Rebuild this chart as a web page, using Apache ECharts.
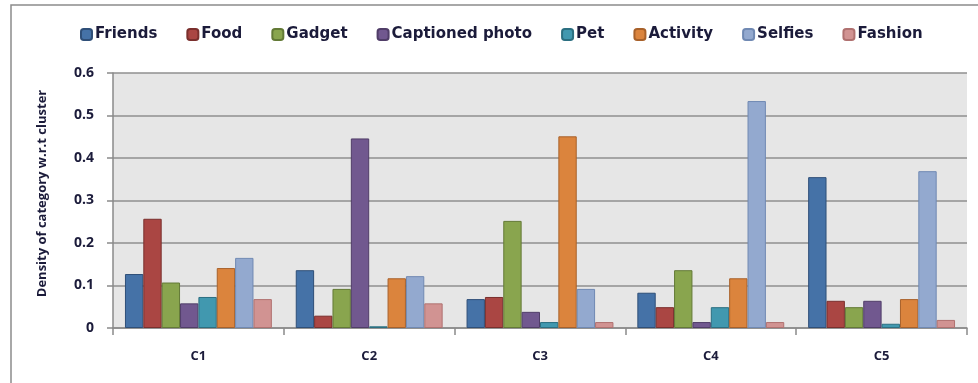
<!DOCTYPE html>
<html>
<head>
<meta charset="utf-8">
<script src="https://cdn.jsdelivr.net/npm/echarts@6/dist/echarts.min.js"></script>
<style>
  html, body { margin: 0; padding: 0; background: #fff; }
  #chart { width: 978px; height: 383px; }
</style>
</head>
<body>
<div id="chart"></div>
<script>
const clusters = ['C1', 'C2', 'C3', 'C4', 'C5'];
const friends   = [0.127, 0.136, 0.068, 0.083, 0.355];
const food      = [0.257, 0.029, 0.073, 0.049, 0.064];
const gadget    = [0.107, 0.092, 0.252, 0.136, 0.049];
const captioned = [0.058, 0.446, 0.038, 0.014, 0.064];
const pet       = [0.073, 0.004, 0.014, 0.049, 0.010];
const activity  = [0.141, 0.117, 0.451, 0.117, 0.068];
const selfies   = [0.165, 0.122, 0.092, 0.534, 0.369];
const fashion   = [0.068, 0.058, 0.014, 0.014, 0.019];
const yTicks = [0, 0.1, 0.2, 0.3, 0.4, 0.5, 0.6];

const textColor = '#1b1b3a';
const fontFamily = '"Open Sans", Lato, sans-serif';

// fill, border
const seriesDefs = [
  ['Friends', friends, '#4572A7', '#2f4f78'],
  ['Food', food, '#AA4643', '#7a2f2d'],
  ['Gadget', gadget, '#89A54E', '#637a36'],
  ['Captioned photo', captioned, '#71588F', '#503d68'],
  ['Pet', pet, '#4198AF', '#2b6f81'],
  ['Activity', activity, '#DB843D', '#a8612a'],
  ['Selfies', selfies, '#93A9CF', '#7089b3'],
  ['Fashion', fashion, '#D19392', '#b07170']
];

const chart = echarts.init(document.getElementById('chart'));

chart.setOption({
  animation: false,
  textStyle: { fontFamily: fontFamily },
  graphic: [{
    type: 'rect',
    shape: { x: 11, y: 5, width: 1000, height: 400 },
    style: { fill: 'none', stroke: '#8c8c8c', lineWidth: 1.5 },
    z: -10
  }],
  legend: {
    top: 22,
    left: 75,
    itemWidth: 11,
    itemHeight: 11,
    itemGap: 29,
    textStyle: {
      color: textColor, fontSize: 15, fontWeight: 'bold',
      fontFamily: '"DejaVu Sans", sans-serif', padding: [0, 0, 0, -2]
    },
    data: seriesDefs.map(s => s[0])
  },
  grid: {
    left: 113, right: 11, top: 73, bottom: 55,
    show: true,
    backgroundColor: '#e6e6e6',
    borderWidth: 0
  },
  xAxis: {
    type: 'category',
    data: clusters,
    axisLine: { lineStyle: { color: '#8a8a8a', width: 1.5 } },
    axisTick: { show: true, length: 7, lineStyle: { color: '#8a8a8a', width: 1.5 } },
    axisLabel: { color: textColor, fontWeight: 'bold', fontSize: 13, margin: 22 },
    splitLine: { show: false }
  },
  yAxis: {
    type: 'value',
    min: 0, max: 0.6, interval: 0.1,
    name: 'Density of category w.r.t cluster',
    nameLocation: 'middle',
    nameGap: 64,
    nameTextStyle: { color: textColor, fontWeight: 'bold', fontSize: 13, padding: [0, 0, 0, 14] },
    axisLine: { show: true, lineStyle: { color: '#8a8a8a', width: 1.5 } },
    axisTick: { show: true, length: 6, lineStyle: { color: '#8a8a8a', width: 1.5 } },
    axisLabel: {
      color: textColor, fontWeight: 'bold', fontSize: 14, margin: 19,
      formatter: v => yTicks.includes(+v.toFixed(1)) ? String(+v.toFixed(1)) : ''
    },
    splitLine: { show: true, lineStyle: { color: '#8f8f8f', width: 1.5 } }
  },
  series: seriesDefs.map(([name, data, fill, border]) => ({
    name: name,
    type: 'bar',
    data: data,
    barGap: '0%',
    barCategoryGap: '14%',
    itemStyle: { color: fill, borderColor: border, borderWidth: 1 }
  }))
});
</script>
</body>
</html>
